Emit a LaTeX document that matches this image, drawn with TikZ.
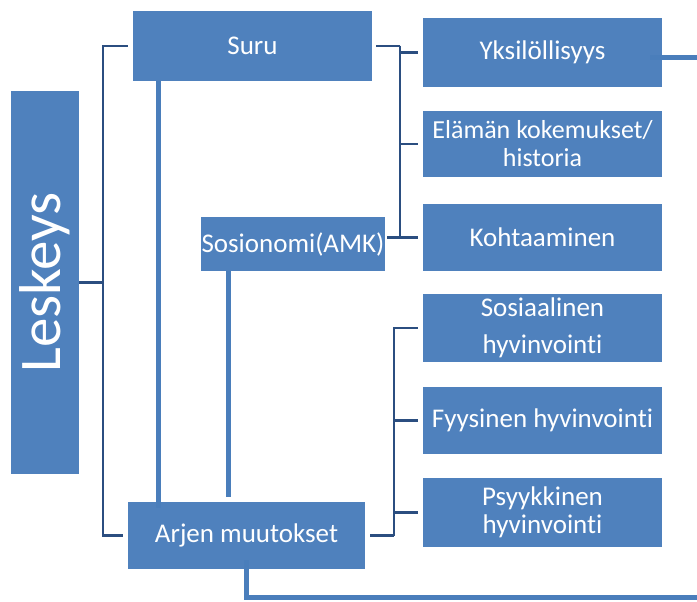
\documentclass[tikz,border=0pt]{standalone}
\usepackage{fontspec}
\setmainfont{Carlito}[Ligatures=NoCommon]
\usetikzlibrary{calc}
\definecolor{boxblue}{HTML}{4F81BD}
\definecolor{linkdark}{HTML}{2B4E80}
\definecolor{linkblue}{HTML}{4A7EBB}
\begin{document}
\begin{tikzpicture}[x=1pt,y=-1pt,
  box/.style={fill=boxblue,draw=none,inner sep=0pt,text=white,align=center,
    font=\fontsize{27}{28}\selectfont},
  bracket/.style={draw=linkdark,line width=2.8pt},
  thickline/.style={draw=linkblue,line width=5pt}]
\useasboundingbox (0,0) rectangle (697,602);
\clip (0,0) rectangle (697,602);
\fill[white] (0,0) rectangle (697,602);

% nodes
\node[box,minimum width=68pt,minimum height=383pt] (lesk) at (45,282.5) {};
\node[text=white,rotate=90,font=\fontsize{59}{60}\selectfont,inner sep=0pt] (lesktxt) at (lesk.center) {Leskeys};
\node[box,minimum width=239pt,minimum height=70pt] (suru) at (252.5,46) {Suru};
\node[box,minimum width=184pt,minimum height=54pt] (sos) at (293,244) {Sosionomi(AMK)};
\node[box,minimum width=237pt,minimum height=67pt] (arjen) at (246.5,535.5) {Arjen muutokset};

\node[box,minimum width=239pt,minimum height=69pt] (yks) at (542.5,52.5) {Yksilöllisyys};
\node[box,minimum width=239pt,minimum height=66pt,font=\fontsize{26}{28}\selectfont] (ela) at (542.5,144) {Elämän kokemukset/\\historia};
\node[box,minimum width=239pt,minimum height=67pt] (koh) at (542.5,237.5) {Kohtaaminen};
\node[box,minimum width=239pt,minimum height=68pt,font=\fontsize{27}{37}\selectfont] (sosi) at (542.5,328) {Sosiaalinen\\hyvinvointi};
\node[box,minimum width=239pt,minimum height=67pt] (fyy) at (542.5,420.5) {Fyysinen hyvinvointi};
\node[box,minimum width=239pt,minimum height=69pt] (psy) at (542.5,512.5) {Psyykkinen\\hyvinvointi};

% Leskeys bracket
\coordinate (lb) at (103,0);
\draw[bracket] (lesk.east) -- (lesk.east -| lb);
\draw[bracket,shorten >=5pt] (lesk.east -| lb) |- (suru.west);
\draw[bracket,shorten >=5pt] (lesk.east -| lb) |- (arjen.west);

% Suru bracket
\coordinate (sb) at (400,0);
\draw[bracket,shorten <=4pt] (suru.east) -- (suru.east -| sb);
\draw[bracket,shorten >=5pt] (suru.east -| sb) |- (yks.west);
\draw[bracket,shorten >=5pt] (suru.east -| sb) |- (ela.west);
\draw[bracket,shorten >=5pt] (suru.east -| sb) |- (koh.west);
\draw[bracket,shorten <=2pt] (sos.east |- koh.west) -- (koh.west -| sb);

% Arjen bracket
\coordinate (ab) at (394,0);
\draw[bracket,shorten <=5pt] (arjen.east) -- (arjen.east -| ab);
\draw[bracket,shorten >=5pt] (arjen.east -| ab) |- (sosi.west);
\draw[bracket,shorten >=5pt] (arjen.east -| ab) |- (fyy.west);
\draw[bracket,shorten >=5pt] (arjen.east -| ab) |- (psy.west);

% thick links
\coordinate (c1) at (158,0);
\coordinate (c2) at (228,0);
\draw[thickline] (suru.south -| c1) -- ([yshift=-6pt]arjen.north -| c1);
\draw[thickline] (sos.south -| c2) -- ([yshift=5pt]arjen.north -| c2);
\coordinate (corner) at (705,597);
\draw[thickline] ([xshift=-12pt,yshift=-5pt]yks.east) -| (corner) -| ([yshift=9pt]arjen.south);
\end{tikzpicture}
\end{document}
